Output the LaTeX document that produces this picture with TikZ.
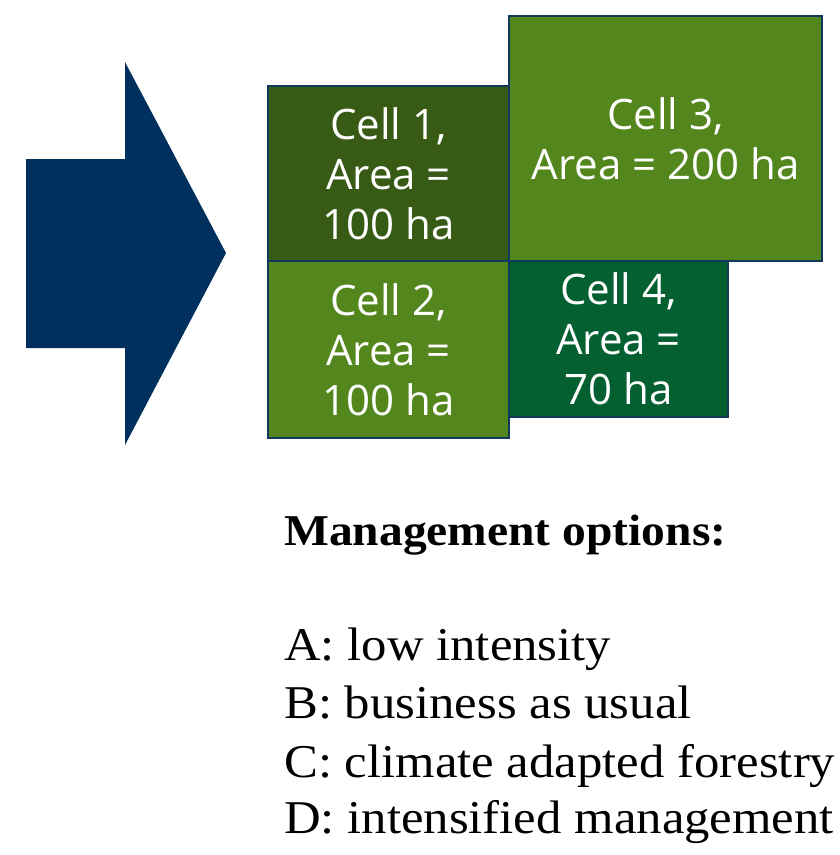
\documentclass[tikz,border=0pt]{standalone}
\usepackage{fontspec}
\setmainfont{Liberation Serif}
\newfontfamily\cellfont{Open Sans}
\newfontfamily\listfont[FakeStretch=1.08]{Liberation Serif}
\definecolor{navy}{HTML}{00305E}
\definecolor{edge}{HTML}{103A5C}
\definecolor{gdark}{HTML}{375A14}
\definecolor{gmid}{HTML}{53861C}
\definecolor{gdeep}{HTML}{045F31}
\begin{document}
\begin{tikzpicture}[x=1pt,y=-1pt,
  cell/.style={draw=edge,line width=2pt,inner sep=0pt,text=white,align=center,
    font=\cellfont\fontsize{42}{50}\selectfont},
  listtext/.style={anchor=base west,inner sep=0pt,font=\listfont\fontsize{47}{56}\selectfont}]
\useasboundingbox (0,0) rectangle (839,855);
% arrow
\fill[navy] (26,159) -- (125,159) -- (125,62) -- (226,253) -- (125,445) -- (125,348) -- (26,348) -- cycle;
% cells
\node[cell,fill=gmid,minimum width=313pt,minimum height=245pt] (c3) at (665.5,138.5) {Cell 3,\\Area = 200 ha};
\node[cell,fill=gdark,minimum width=241pt,minimum height=175pt] (c1) at (388.5,173.5) {Cell 1,\\Area =\\100 ha};
\node[cell,fill=gdeep,minimum width=219pt,minimum height=156pt] (c4) at (618.5,339) {Cell 4,\\Area =\\70 ha};
\node[cell,fill=gmid,minimum width=241pt,minimum height=177pt] (c2) at (388.5,349.5) {Cell 2,\\Area =\\100 ha};
% text
\node[listtext,font=\listfont\bfseries\fontsize{44}{50}\selectfont] (mo) at (284,545) {Management options:};
\node[listtext] (la) at (284,660) {A: low intensity};
\node[listtext] (lb) at (284,718) {B: business as usual};
\node[listtext] (lc) at (284,777) {C: climate adapted forestry};
\node[listtext] (ld) at (284,833) {D: intensified management};
\end{tikzpicture}
\end{document}
